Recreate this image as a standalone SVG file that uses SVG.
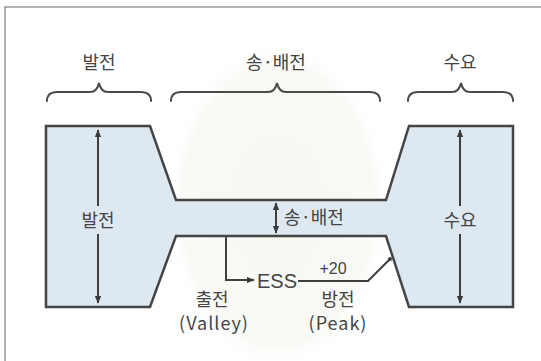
<svg xmlns="http://www.w3.org/2000/svg" width="541" height="361" viewBox="0 0 541 361">
  <defs>
    <marker id="ah" viewBox="0 0 10 10" refX="9" refY="5" markerWidth="4" markerHeight="4" orient="auto-start-reverse" markerUnits="strokeWidth">
      <path d="M0,1 L10,5 L0,9 Z" fill="#3a3a3a"/>
    </marker>
    <radialGradient id="wm" cx="0.5" cy="0.5" r="0.5">
      <stop offset="0" stop-color="#f7f8f1"/>
      <stop offset="0.85" stop-color="#f9faf6"/>
      <stop offset="1" stop-color="#ffffff" stop-opacity="0"/>
    </radialGradient>
  </defs>
  <style>
    .t { font-family: "Noto Sans CJK KR", "Noto Sans", sans-serif; fill: #444; font-size: 18px; text-anchor: middle; }
    .lat { font-family: "Liberation Sans", "Noto Sans CJK KR", sans-serif; fill: #444; text-anchor: middle; }
    .brace { fill: none; stroke: #4a4a4a; stroke-width: 2; stroke-linecap: round; }
    .dim { stroke: #3f3f3f; stroke-width: 2; fill: none; }
    .conn { stroke: #3f3f3f; stroke-width: 2; fill: none; }
  </style>
  <rect width="541" height="361" fill="#ffffff"/>
  <ellipse cx="278" cy="205" rx="112" ry="165" fill="url(#wm)"/>
  <path d="M5,361 V7 H541" fill="none" stroke="#9a9a9a" stroke-width="1.5"/>

  <g id="headers">
    <text class="t" x="99" y="69">발전</text>
    <text class="t" x="276" y="69">송·배전</text>
    <text class="t" x="460" y="69">수요</text>
    <path class="brace" d="M47,101 Q47,92 57,92 H90 Q97,92 99,83 Q101,92 108,92 H141 Q151,92 151,101"/>
    <path class="brace" d="M171,101 Q171,92 181,92 H268 Q275,92 277,83 Q279,92 286,92 H370 Q380,92 380,101"/>
    <path class="brace" d="M408,101 Q408,92 418,92 H452 Q459,92 461,83 Q463,92 470,92 H503 Q513,92 513,101"/>
  </g>

  <g id="grid-shape">
    <path d="M46,126 H150 L176,200 H386 L409,126 H513 V307 H409 L386,236 H176 L150,307 H46 Z" fill="#dde8f1" stroke="#454545" stroke-width="2.5" stroke-linejoin="miter"/>
  </g>

  <g id="generation">
    <line class="dim" x1="98" y1="206" x2="98" y2="130" marker-end="url(#ah)"/>
    <line class="dim" x1="98" y1="234" x2="98" y2="303" marker-end="url(#ah)"/>
    <text class="t" x="98" y="227">발전</text>
  </g>

  <g id="demand">
    <line class="dim" x1="460" y1="206" x2="460" y2="130" marker-end="url(#ah)"/>
    <line class="dim" x1="460" y1="234" x2="460" y2="303" marker-end="url(#ah)"/>
    <text class="t" x="460" y="227">수요</text>
  </g>

  <g id="transmission">
    <line class="dim" x1="276" y1="203" x2="276" y2="233" marker-start="url(#ah)" marker-end="url(#ah)"/>
    <text class="t" x="314" y="224" font-size="17">송·배전</text>
  </g>

  <g id="ess">
    <text class="lat" x="277" y="288" font-size="20">ESS</text>
  </g>

  <g id="connectors">
    <path class="conn" d="M226,237 V280 H254" marker-end="url(#ah)"/>
    <path class="conn" d="M298,281 H368 L390,259"/>
    <circle cx="390" cy="259" r="2" fill="#3f3f3f"/>
  </g>

  <g id="labels">
    <text class="lat" x="333" y="274" font-size="16">+20</text>
    <text class="t" x="212" y="306" font-size="16">출전</text>
    <text class="t" x="214" y="330" font-size="16" letter-spacing="1">(Valley)</text>
    <text class="t" x="338" y="306" font-size="16">방전</text>
    <text class="t" x="338" y="330" font-size="16" letter-spacing="1">(Peak)</text>
  </g>
</svg>
